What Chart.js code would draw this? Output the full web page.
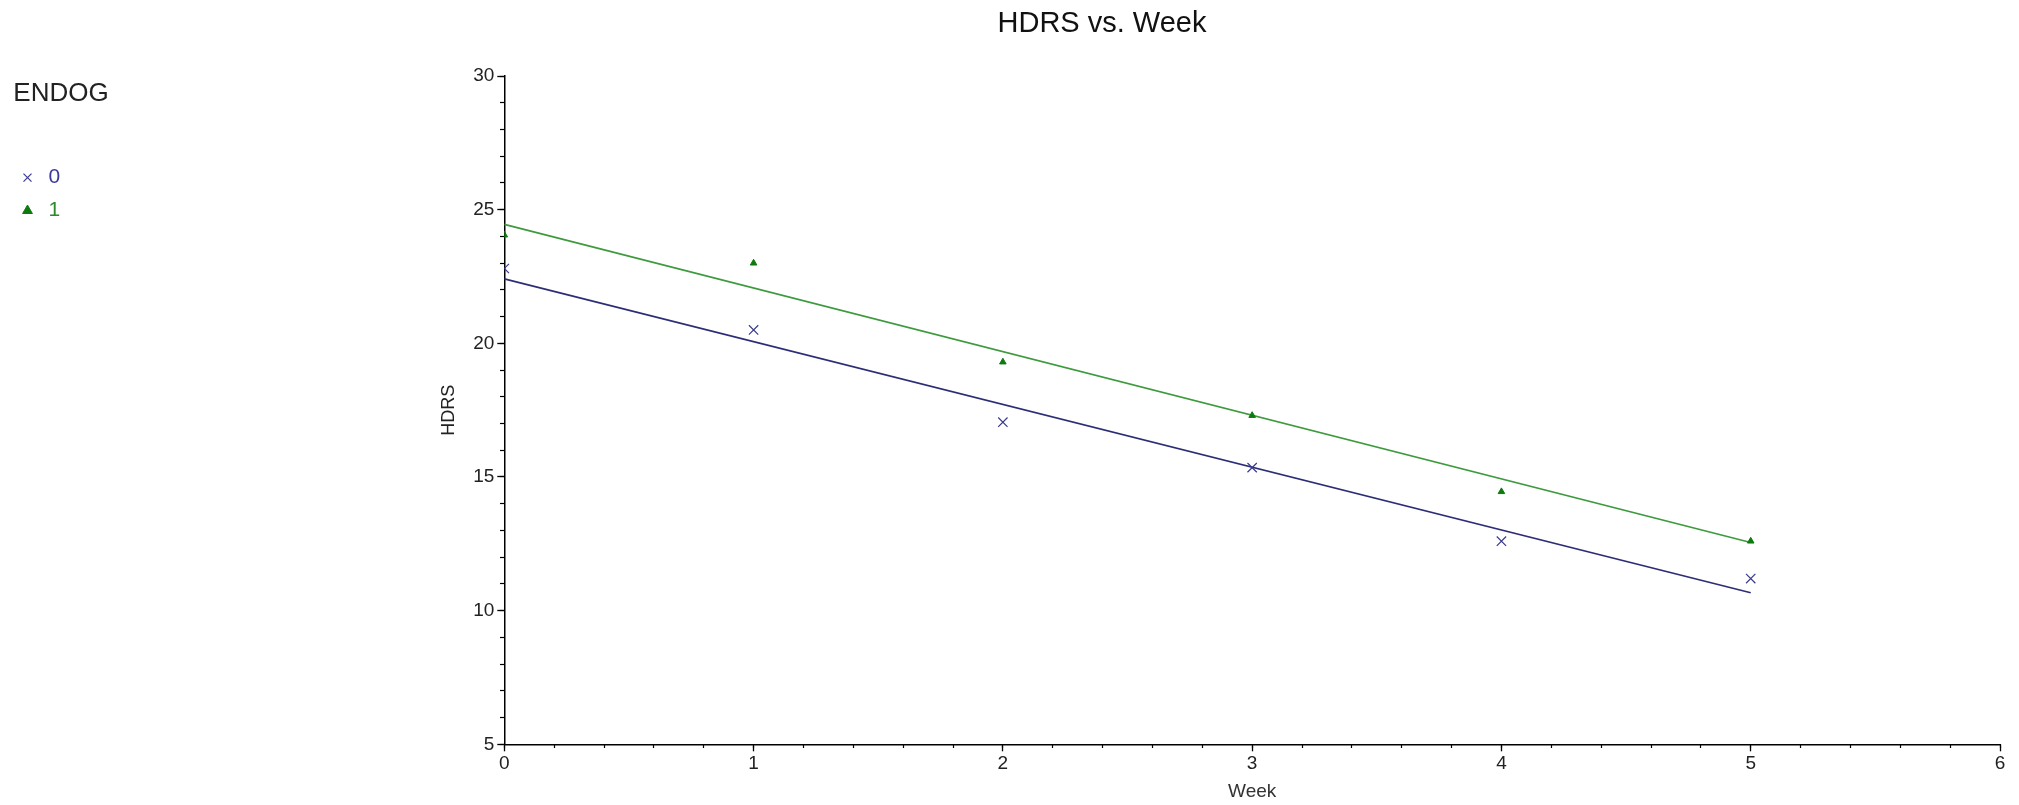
<!DOCTYPE html>
<html><head><meta charset="utf-8">
<script src="https://cdn.jsdelivr.net/npm/chart.js@4/dist/chart.umd.min.js"></script>
<style>html,body{margin:0;padding:0;background:#fff;} #wrap{width:2019px;height:805px;position:relative;}</style>
</head><body><div id="wrap"><canvas id="c"></canvas></div>
<script>
// ---- data ----
const weeks = [0, 1, 2, 3, 4, 5];
const hdrsEndog0 = [22.8, 20.5, 17.05, 15.35, 12.6, 11.2];
const hdrsEndog1 = [24.05, 23.0, 19.3, 17.3, 14.45, 12.6];
const fitWeeks = [0, 5];
const fitEndog0 = [22.41, 10.67];
const fitEndog1 = [24.45, 12.55];
const xTicks = [0, 1, 2, 3, 4, 5, 6];
const yTicks = [5, 10, 15, 20, 25, 30];
const groupLabels = ['0', '1'];
const chartTitle = 'HDRS vs. Week';
const legendTitle = 'ENDOG';
const xTitle = 'Week';
const yTitle = 'HDRS';

const BLUE_M = '#3a3a8c', BLUE_L = '#2d2d76', BLUE_T = '#3a3a9e';
const GREEN_M = '#0e7a0e', GREEN_L = '#3d9a3d', GREEN_T = '#2a8a2a';
const FONT = "'Liberation Sans', Arial, sans-serif";
Chart.defaults.font.family = FONT;
Chart.defaults.color = '#222';

const LEGEND_W = 112;
const PAD_L = 5;

const pts = (xs, ys) => xs.map((x, i) => ({x: x, y: ys[i]}));

const titlePlugin = {
  id: 'sasTitle',
  afterInit(chart) {
    const lg = chart.legend;
    if (lg && !lg._wideFit) {
      const orig = lg.fit.bind(lg);
      lg.fit = function () { orig(); if (this.width > 0) this.width = LEGEND_W; };
      lg._wideFit = true;
    }
  },
  afterDraw(chart) {
    const ctx = chart.ctx;
    ctx.save();
    ctx.font = "29px " + FONT;
    ctx.fillStyle = '#111';
    ctx.textAlign = 'center';
    ctx.textBaseline = 'middle';
    ctx.fillText(chartTitle, 1102, 24);
    ctx.restore();
  }
};

new Chart(document.getElementById('c'), {
  type: 'scatter',
  data: {
    datasets: [
      { label: groupLabels[0], data: pts(weeks, hdrsEndog0), xAxisID: 'x', yAxisID: 'y',
        pointStyle: 'crossRot', pointRadius: 6.6, pointHoverRadius: 6.6, borderColor: BLUE_M, backgroundColor: BLUE_M,
        borderWidth: 1.2, showLine: false, order: 1 },
      { label: groupLabels[1], data: pts(weeks, hdrsEndog1), xAxisID: 'x', yAxisID: 'y',
        pointStyle: 'triangle', pointRadius: 3.8, pointHoverRadius: 3.8, borderColor: GREEN_M, backgroundColor: GREEN_M,
        borderWidth: 1, showLine: false, order: 1 },
      { label: 'fit0', data: pts(fitWeeks, fitEndog0), xAxisID: 'x', yAxisID: 'y', showLine: true,
        pointRadius: 0, borderColor: BLUE_L, borderWidth: 1.6, fill: false, order: 2 },
      { label: 'fit1', data: pts(fitWeeks, fitEndog1), xAxisID: 'x', yAxisID: 'y', showLine: true,
        pointRadius: 0, borderColor: GREEN_L, borderWidth: 1.6, fill: false, order: 2 }
    ]
  },
  options: {
    responsive: true, maintainAspectRatio: false, animation: false,
    devicePixelRatio: 1,
    layout: { padding: { left: PAD_L, top: 76, right: 19, bottom: 0 } },
    plugins: {
      tooltip: { enabled: false },
      title: { display: false },
      legend: {
        position: 'left', align: 'start',
        title: { display: true, text: legendTitle, position: 'center', color: '#222',
                 font: { size: 26 }, padding: { top: 5, bottom: 43 } },
        labels: {
          usePointStyle: true, boxHeight: 8, padding: 12, font: { size: 21 },
          filter: (item) => groupLabels.includes(item.text),
          generateLabels(chart) {
            const items = Chart.defaults.plugins.legend.labels.generateLabels(chart);
            items.forEach(it => {
              if (it.text === groupLabels[0]) it.fontColor = BLUE_T;
              if (it.text === groupLabels[1]) it.fontColor = GREEN_T;
            });
            return items;
          }
        }
      }
    },
    scales: {
      x: {
        type: 'linear', position: 'bottom', min: 0, max: 6,
        afterBuildTicks: s => { s.ticks = xTicks.map(v => ({value: v})); },
        afterFit: s => { s.height = 60.7; },
        grid: { drawOnChartArea: false, tickLength: 7, tickColor: '#000', tickWidth: 1.3 },
        border: { display: true, color: '#000', width: 1.5 },
        ticks: { font: { size: 19 }, color: '#222', padding: 1, autoSkip: false, maxRotation: 0 },
        title: { display: true, text: xTitle, font: { size: 19 }, color: '#333', padding: { top: 0, bottom: 2 } }
      },
      y: {
        type: 'linear', position: 'left', min: 5, max: 30,
        afterBuildTicks: s => { s.ticks = yTicks.map(v => ({value: v})); },
        afterFit: s => { s.width = 504.3 - PAD_L - s.chart.legend.width; },
        grid: { drawOnChartArea: false, tickLength: 7, tickColor: '#000', tickWidth: 1.3 },
        border: { display: true, color: '#000', width: 1.5 },
        ticks: { font: { size: 19 }, color: '#222', padding: 3 },
        title: { display: true, text: yTitle, font: { size: 18 }, color: '#222',
                 padding: { top: 449 - 10.8 - PAD_L - LEGEND_W, bottom: 0 } }
      },
      x2: {
        type: 'linear', axis: 'x', position: { y: 5 }, min: 0, max: 6,
        grid: { drawOnChartArea: false, tickLength: 4, tickColor: '#000', tickWidth: 1.2 },
        border: { display: false },
        ticks: { display: false, stepSize: 0.2, autoSkip: false }
      },
      y2: {
        type: 'linear', axis: 'y', position: { x: 0 }, min: 5, max: 30,
        grid: { drawOnChartArea: false, tickLength: 4, tickColor: '#000', tickWidth: 1.2 },
        border: { display: false },
        ticks: { display: false, stepSize: 1 }
      }
    }
  },
  plugins: [titlePlugin]
});
</script>
</body></html>
